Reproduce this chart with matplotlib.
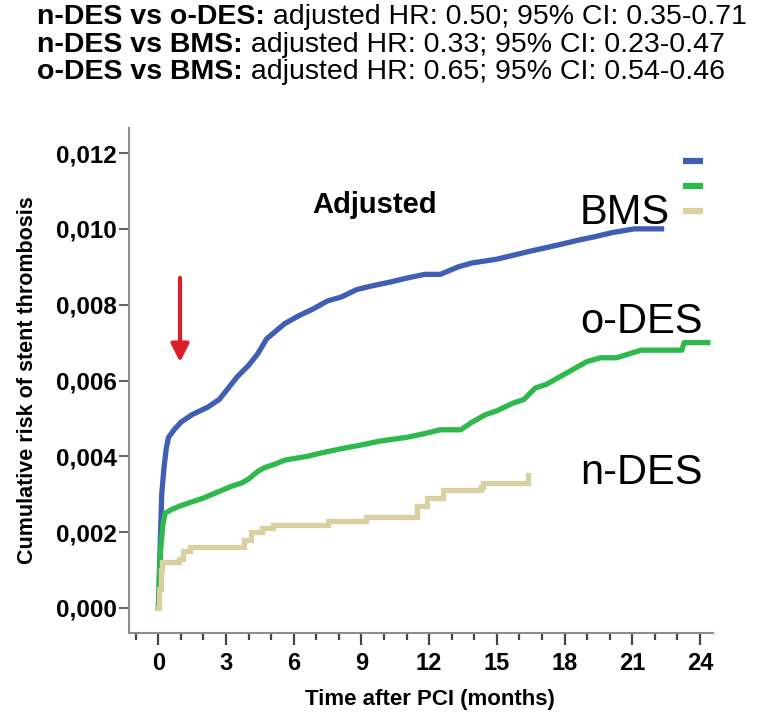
from matplotlib import pyplot as plt
from matplotlib.lines import Line2D
import numpy as np

plt.rcParams['font.family'] = ['Liberation Sans', 'DejaVu Sans']

# Hazard ratio summary printed above the plot
comparisons = ['n-DES vs o-DES:', 'n-DES vs BMS:', 'o-DES vs BMS:']
adj_hr = [0.50, 0.33, 0.65]
ci_low = [0.35, 0.23, 0.54]
ci_high = [0.71, 0.47, 0.46]

# Cumulative risk (months, risk); BMS and o-DES have many tiny steps
bms_t = [0.0, 0.05, 0.1, 0.15, 0.25, 0.35, 0.45, 0.7, 1.0, 1.5, 2.2, 2.7, 3.1, 3.5,
         4.0, 4.4, 4.8, 5.2, 5.6, 6.2, 6.9, 7.5, 8.1, 8.8, 9.5, 10.3, 11.0, 11.8,
         12.5, 13.3, 13.9, 15.0, 16.4, 17.9, 18.6, 19.4, 20.1, 21.1, 22.3]
bms_r = [0.0, 0.0010, 0.0020, 0.0030, 0.0037, 0.0042, 0.0045, 0.0047, 0.0049, 0.0051,
         0.0053, 0.0055, 0.0058, 0.0061, 0.0064, 0.0067, 0.0071, 0.0073, 0.0075,
         0.0077, 0.0079, 0.0081, 0.0082, 0.0084, 0.0085, 0.0086, 0.0087, 0.0088,
         0.0088, 0.0090, 0.0091, 0.0092, 0.0094, 0.0096, 0.0097, 0.0098, 0.0099,
         0.0100, 0.0100]

odes_t = [0.0, 0.05, 0.1, 0.2, 0.3, 0.6, 1.0, 1.5, 2.0, 2.4, 2.8, 3.2, 3.7, 4.0, 4.4,
          4.7, 5.2, 5.6, 6.6, 7.3, 8.1, 9.0, 9.8, 11.0, 11.8, 12.5, 13.4, 13.9, 14.5,
          15.0, 15.7, 16.2, 16.7, 17.2, 17.8, 18.4, 19.0, 19.6, 20.3, 21.4, 23.2,
          23.3, 24.35]
odes_r = [0.0, 0.0008, 0.0015, 0.0022, 0.0025, 0.0026, 0.0027, 0.0028, 0.0029, 0.0030,
          0.0031, 0.0032, 0.0033, 0.0034, 0.0036, 0.0037, 0.0038, 0.0039, 0.0040,
          0.0041, 0.0042, 0.0043, 0.0044, 0.0045, 0.0046, 0.0047, 0.0047, 0.0049,
          0.0051, 0.0052, 0.0054, 0.0055, 0.0058, 0.0059, 0.0061, 0.0063, 0.0065,
          0.0066, 0.0066, 0.0068, 0.0068, 0.0070, 0.0070]

# n-DES has few events, so its steps are clearly visible
ndes_t = [0.0, 0.05, 0.1, 0.15, 0.9, 1.1, 1.4, 3.5, 3.8, 4.1, 4.6, 5.1, 7.0, 7.5, 9.2,
          11.4, 11.45, 11.9, 12.6, 14.3, 14.4, 16.35, 16.36]
ndes_r = [0.0, 0.0005, 0.0010, 0.0012, 0.0013, 0.0015, 0.0016, 0.0016, 0.0018, 0.0020,
          0.0021, 0.0022, 0.0022, 0.0023, 0.0024, 0.0024, 0.0027, 0.0029, 0.0031,
          0.0032, 0.0033, 0.0033, 0.0035]

groups = ['BMS', 'o-DES', 'n-DES']
colors = ['#405EB4', '#2DB94B', '#D8D0A0']

W, H = 773, 712


def fx(px):
    return px / W


def fy(py):
    return 1 - py / H


fig = plt.figure(figsize=(W / 100, H / 100), dpi=100)
ax = fig.add_axes([fx(129), fy(633), fx(713) - fx(129), fy(128) - fy(633)])

ax.plot(bms_t, bms_r, color=colors[0], lw=3.8)
ax.plot(odes_t, odes_r, color=colors[1], lw=3.8)
ax.plot(ndes_t, ndes_r, drawstyle='steps-post', color=colors[2], lw=3.8,
        solid_joinstyle='miter')

ax.set_xlim(-1.30, 24.58)
ax.set_ylim(-0.00066, 0.01266)

yticks = np.arange(0, 0.0121, 0.002)
ax.set_yticks(yticks)
ax.set_yticklabels([f'{v:.3f}'.replace('.', ',') for v in yticks],
                   fontsize=17.5, fontweight='bold')
ax.set_xticks(range(0, 25, 3))
ax.set_xticks(range(-1, 25), minor=True)
ax.set_xticklabels([str(v) for v in range(0, 25, 3)], fontsize=17, fontweight='bold')

for side in ['top', 'right']:
    ax.spines[side].set_visible(False)
for side in ['left', 'bottom']:
    ax.spines[side].set_color('#8c8c8c')
    ax.spines[side].set_linewidth(1.5)

ax.tick_params(axis='x', which='major', length=8.6, width=1.6, color='#444444', pad=5)
ax.tick_params(axis='x', which='minor', length=5, width=1.6, color='#444444')
ax.tick_params(axis='y', length=7, width=1.5, color='#666666', pad=2)

ax.set_xlabel('Time after PCI (months)', fontsize=16, fontweight='bold')
ax.xaxis.set_label_coords(0.515, -0.11)
ax.set_ylabel('Cumulative risk of stent thrombosis', fontsize=15.5, fontweight='bold')
ax.yaxis.set_label_coords(-0.155, 0.5)

# red arrow marking the early phase
ax.annotate('', xy=(0.96, 0.00641), xytext=(0.96, 0.00878),
            arrowprops=dict(arrowstyle='-|>', color='#DC1E28', lw=3, mutation_scale=27))

ax.text(0.421, 0.847, 'Adjusted', transform=ax.transAxes, ha='center', va='center',
        fontsize=21, fontweight='bold')

# group names next to the curves
for name, py in zip(groups, [213, 322, 473]):
    fig.text(fx(580), fy(py), name, fontsize=30, va='center', ha='left')

# legend keys (labels fall outside the figure)
for c, py in zip(colors, [161, 186, 211]):
    fig.add_artist(Line2D([fx(683), fx(703)], [fy(py), fy(py)], color=c, lw=4.5,
                          solid_capstyle='butt'))

# header lines: bold comparison then the hazard ratio
renderer = fig.canvas.get_renderer()
for i, name in enumerate(comparisons):
    y = fy(24 + 27.5 * i)
    t = fig.text(fx(37), y, name, fontsize=20.5, fontweight='bold', va='baseline')
    bb = t.get_window_extent(renderer)
    rest = f' adjusted HR: {adj_hr[i]:.2f}; 95% CI: {ci_low[i]:.2f}-{ci_high[i]:.2f}'
    fig.text(bb.x1 / W, y, rest, fontsize=20.5, va='baseline')

fig.savefig('out.png', dpi=100)
